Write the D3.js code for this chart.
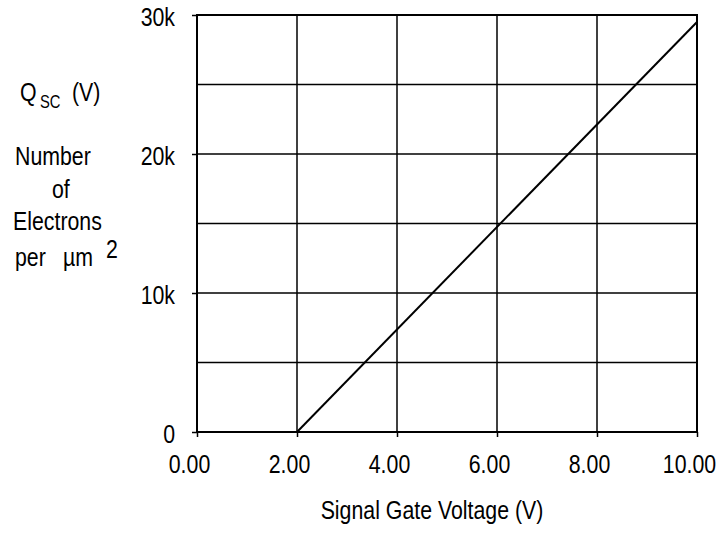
<!DOCTYPE html>
<html>
<head>
<meta charset="utf-8">
<script src="https://cdn.jsdelivr.net/npm/d3@7"></script>
<style>
  body { margin: 0; background: #fff; }
  svg { display: block; font-family: "Liberation Sans", Arial, sans-serif; }
</style>
</head>
<body>
<div id="chart"></div>
<script>
// gate voltage (V) vs charge (electrons per um^2)
var voltage = [2.0, 10.0];
var electrons = [0, 29500];
var xTicks = [0, 2, 4, 6, 8, 10];
var yTicks = [0, 10000, 20000, 30000];
var yGrid = [5000, 10000, 15000, 20000, 25000];
var leftLabel = ["Number", "of", "Electrons"];

var width = 719, height = 535;
var margin = { top: 15, right: 22, bottom: 103, left: 197 };
var fs = "26px";
var narrow = 0.82; // the scan uses a condensed face

var svg = d3.select("#chart").append("svg")
    .attr("width", width)
    .attr("height", height);

var x = d3.scaleLinear().domain([0, 10]).range([margin.left, width - margin.right]);
var y = d3.scaleLinear().domain([0, 30000]).range([height - margin.bottom, margin.top]);

// squeeze texts horizontally around their anchor point
var squeeze = function (sel) {
    sel.each(function () {
        var t = d3.select(this);
        var tx = +t.attr("x") || 0, ty = +t.attr("y") || 0;
        t.attr("x", 0).attr("y", 0)
            .attr("transform", "translate(" + tx + "," + ty + ") scale(" + narrow + ",1)");
    });
}

var label = function (txt, px, py, size) {
    return svg.append("text").attr("x", px).attr("y", py)
        .style("font-size", size || fs).text(txt).call(squeeze);
}

//grid
var grid = svg.append("g").attr("stroke", "#000").attr("stroke-width", 1.5);
grid.selectAll("line.v").data([2, 4, 6, 8]).enter().append("line")
    .attr("x1", d => x(d)).attr("x2", d => x(d))
    .attr("y1", y(0)).attr("y2", y(30000));
grid.selectAll("line.h").data(yGrid).enter().append("line")
    .attr("x1", x(0)).attr("x2", x(10))
    .attr("y1", d => y(d)).attr("y2", d => y(d));

//frame
svg.append("rect")
    .attr("x", x(0)).attr("y", y(30000))
    .attr("width", x(10) - x(0)).attr("height", y(0) - y(30000))
    .attr("fill", "none").attr("stroke", "#000").attr("stroke-width", 2);

//axes
var xAxis = svg.append("g")
    .attr("transform", "translate(0," + y(0) + ")")
    .call(d3.axisBottom(x).tickValues(xTicks).tickSize(5).tickFormat(d3.format(".2f")));
xAxis.selectAll(".tick text").attr("x", -8).attr("y", 41).attr("dy", 0);
var yAxis = svg.append("g")
    .attr("transform", "translate(" + x(0) + ",0)")
    .call(d3.axisLeft(y).tickValues(yTicks).tickSize(5).tickPadding(17)
        .tickFormat(d => d == 0 ? "0" : (d / 1000) + "k"));
yAxis.selectAll(".tick text").attr("dy", "0.4em");
[xAxis, yAxis].forEach(function (a) {
    a.select(".domain").remove();
    a.selectAll(".tick line").attr("stroke", "#000").attr("stroke-width", 1.5);
    a.selectAll(".tick text").attr("fill", "#000").style("font-size", fs).call(squeeze);
});

//data line
var line = d3.line().x((d, i) => x(voltage[i])).y(d => y(d));
svg.append("path")
    .datum(electrons)
    .attr("d", line)
    .attr("fill", "none")
    .attr("stroke", "#000")
    .attr("stroke-width", 2);

//axis title
label("Signal Gate Voltage (V)", 432, 519).attr("text-anchor", "middle");

//left labels
label("Q", 20, 101);
label("SC", 40, 108, "18px");
label("(V)", 72, 101);

var leftX = [15, 52, 13];
var leftY = [165, 198, 230];
leftLabel.forEach(function (d, i) {
    label(d, leftX[i], leftY[i]);
});

label("per", 15, 266);
label("\u00b5m", 63, 266);
label("2", 106, 258);
</script>
</body>
</html>
